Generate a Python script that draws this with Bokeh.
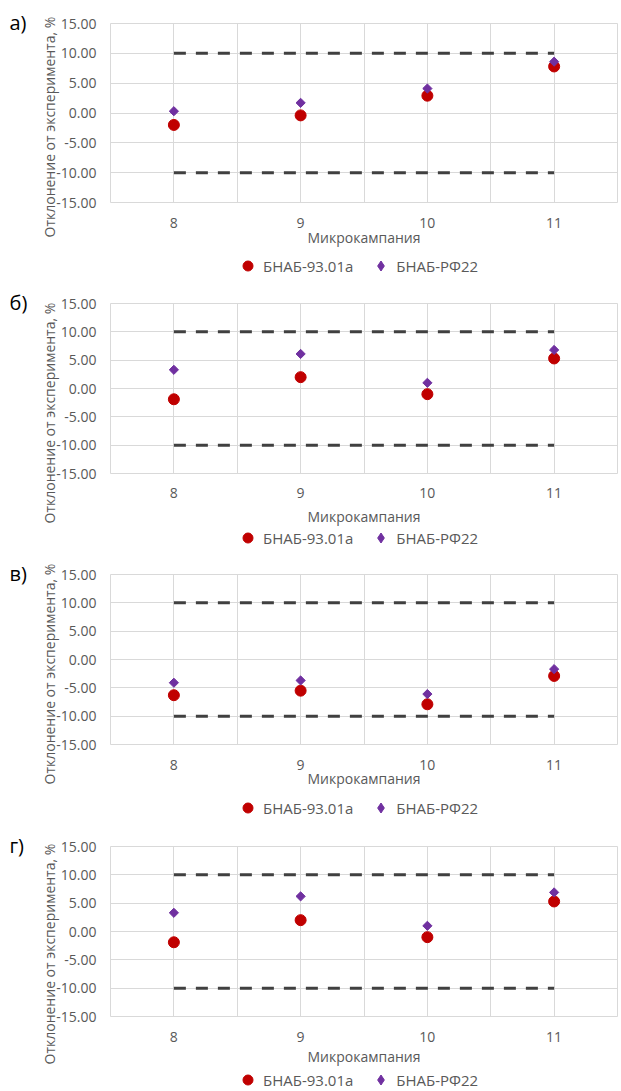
import numpy as np
from bokeh.plotting import figure
from bokeh.layouts import column
from bokeh.models import (Legend, LegendItem, Title, FixedTicker,
                          NumeralTickFormatter, Range1d)
from bokeh.embed import file_html
from bokeh.resources import INLINE

# ---------------- data ----------------
categories = [8, 9, 10, 11]
y_ticks = [-15, -10, -5, 0, 5, 10, 15]
upper_limit = [10, 10, 10, 10]
lower_limit = [-10, -10, -10, -10]

panel_labels = ["а)", "б)", "в)", "г)"]
series_names = ["БНАБ-93.01а", "БНАБ-РФ22"]
y_title = "Отклонение от эксперимента, %"
x_title = "Микрокампания"

red_a = [-2.0, -0.4, 2.9, 7.8]
purple_a = [0.3, 1.7, 4.1, 8.6]
red_b = [-1.9, 2.0, -1.0, 5.3]
purple_b = [3.3, 6.1, 1.0, 6.8]
red_c = [-6.3, -5.5, -7.9, -2.9]
purple_c = [-4.1, -3.7, -6.1, -1.7]
red_d = [-1.9, 2.0, -1.0, 5.3]
purple_d = [3.3, 6.2, 1.0, 6.9]

RED = "#c00000"
PURPLE = "#7030a0"
DASH = "#404040"
GRID = "#d9d9d9"
TXT = "#595959"
FONT = "Open Sans"
W = 621

# per-panel layout (px)
specs = [
    dict(red=red_a, purple=purple_a, h=250, top=23, frame=179, s1=15, als=-3,
         ytoff=-35, leg_h=32, leg_y=4),
    dict(red=red_b, purple=purple_b, h=247, top=21, frame=170, s1=14, als=6,
         ytoff=-50, leg_h=23, leg_y=2),
    dict(red=red_c, purple=purple_c, h=238, top=22, frame=170, s1=15, als=-4,
         ytoff=-40, leg_h=34, leg_y=4),
    dict(red=red_d, purple=purple_d, h=244, top=22, frame=170, s1=15, als=2,
         ytoff=-48, leg_h=22, leg_y=-2),
]

items = []
for lab, sp in zip(panel_labels, specs):
    bottom = sp["h"] - sp["top"] - sp["frame"]
    p = figure(width=W, height=sp["h"], output_backend="svg",
               toolbar_location=None,
               x_range=Range1d(categories[0] - 0.5, categories[-1] + 0.5),
               y_range=Range1d(y_ticks[0], y_ticks[-1]),
               min_border_left=110, min_border_right=4,
               min_border_top=sp["top"], min_border_bottom=bottom)
    p.background_fill_color = "white"
    p.border_fill_color = "white"
    p.outline_line_color = GRID
    p.outline_line_width = 1

    # grid
    p.ygrid.ticker = FixedTicker(ticks=y_ticks)
    p.ygrid.grid_line_color = GRID
    p.xgrid.ticker = FixedTicker(ticks=categories + [c + 0.5 for c in categories[:-1]])
    p.xgrid.grid_line_color = GRID

    # axes
    p.yaxis.ticker = FixedTicker(ticks=y_ticks)
    p.yaxis.formatter = NumeralTickFormatter(format="0.00")
    p.xaxis.ticker = FixedTicker(ticks=categories)
    for ax in (p.xaxis[0], p.yaxis[0]):
        ax.axis_line_color = None
        ax.major_tick_line_color = None
        ax.minor_tick_line_color = None
        ax.major_tick_out = 0
        ax.major_tick_in = 0
        ax.minor_tick_out = 0
        ax.minor_tick_in = 0
        ax.major_label_text_font = FONT
        ax.major_label_text_font_size = "14px"
        ax.major_label_text_color = TXT
        ax.axis_label_text_font = FONT
        ax.axis_label_text_font_size = "14px"
        ax.axis_label_text_font_style = "normal"
        ax.axis_label_text_color = TXT
    p.yaxis.major_label_standoff = 14
    p.xaxis.axis_label = x_title
    p.xaxis.major_label_standoff = sp["s1"]
    p.xaxis.axis_label_standoff = sp["als"]

    # y title as a side title, starting below the frame bottom as in the original
    p.add_layout(Title(text=y_title, align="left", offset=sp["ytoff"],
                       standoff=-10, text_font=FONT, text_font_size="14px",
                       text_font_style="normal", text_color=TXT), "left")

    # panel label
    p.add_layout(Title(text=lab, align="left", offset=-101, standoff=-26,
                       vertical_align="middle", text_font=FONT,
                       text_font_size="20px", text_font_style="normal",
                       text_color="black"), "above")

    # limit lines
    p.line(categories, upper_limit, line_color=DASH, line_width=3,
           line_dash="12 10", line_cap="butt")
    p.line(categories, lower_limit, line_color=DASH, line_width=3,
           line_dash="12 10", line_cap="butt")

    # data
    p.scatter(categories, sp["red"], marker="circle", size=11,
              fill_color=RED, line_color=RED)
    p.scatter(categories, sp["purple"], marker="square", angle=np.pi / 4,
              size=6.5, fill_color=PURPLE, line_color=PURPLE)
    items.append(p)

    # legend strip below the chart (series drawn out of view; legend only)
    lf = figure(width=W, height=sp["leg_h"], output_backend="svg",
                toolbar_location=None, x_range=Range1d(0, 1), y_range=Range1d(0, 1),
                x_axis_location=None, y_axis_location=None,
                min_border=0, outline_line_color=None)
    lf.grid.visible = False
    g1 = lf.scatter(categories, sp["red"], marker="circle", size=11,
                    fill_color=RED, line_color=RED)
    g2 = lf.scatter(categories, sp["purple"], marker="diamond", size=10,
                    fill_color=PURPLE, line_color=PURPLE)
    legend = Legend(items=[LegendItem(label=series_names[0], renderers=[g1]),
                           LegendItem(label=series_names[1], renderers=[g2])],
                    orientation="horizontal", location=(125, sp["leg_y"]),
                    border_line_color=None, background_fill_alpha=0,
                    label_text_font=FONT, label_text_font_size="15px",
                    label_text_color=TXT, glyph_width=25, glyph_height=25,
                    label_height=18, label_standoff=3, spacing=15,
                    padding=0, margin=0)
    lf.add_layout(legend, "center")
    items.append(lf)

layout = column(*items, spacing=0)
open("out.html", "w").write(file_html(layout, INLINE))
